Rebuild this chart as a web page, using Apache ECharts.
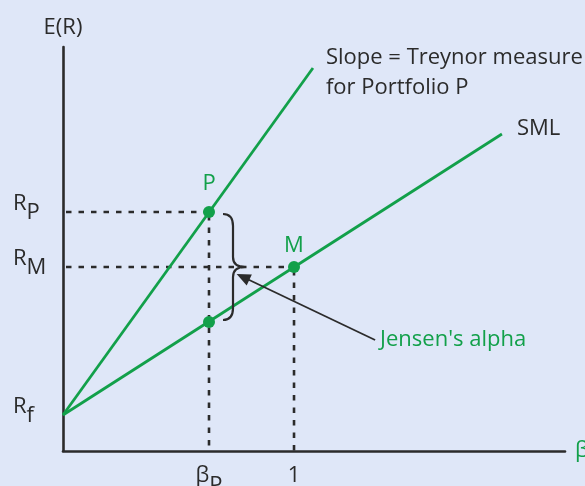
<!DOCTYPE html>
<html>
<head>
<meta charset="utf-8">
<script src="https://cdn.jsdelivr.net/npm/echarts@6/dist/echarts.min.js"></script>
<style>
  html, body { margin: 0; padding: 0; background: #dfe7f8; }
  #chart { width: 585px; height: 486px; }
</style>
</head>
<body>
<div id="chart"></div>
<script>
// 数据：β 与 期望收益（单位随意，只看相对位置）
var betaP = 0.632;
var betaM = 1;
var rf = 0.36;
var rm = 1.84;
var rp = 2.39;
var xMax = 2.173;
var yMax = 4.04;

var treynorLine = [[0, 0.36], [1.082, 3.83]];
var smlLine = [[0, 0.36], [1.9, 3.17]];
// P, M, SML 上对应 βP 的点
var points = [[0.632, 2.39], [1, 1.84], [0.632, 1.29]];
var pointNames = ['P', 'M', ''];
// Jensen's alpha 箭头：起点 -> 终点
var arrowLine = [[1.351, 1.11], [0.779, 1.74]];

var xTickValues = [betaP, betaM];
var yTickValues = [rf, rm, rp];
var yTickSubs = ['f', 'M', 'P'];

var green = '#12a04a';
var ink = '#2b2b2b';
var font = 'Open Sans';
var fs = 22;

var myChart = echarts.init(document.getElementById('chart'));

// 虚线辅助线
var guides = [
    [[0, rp], [betaP, rp]],
    [[betaP, rp], [betaP, 0]],
    [[0, rm], [betaM, rm]],
    [[betaM, rm], [betaM, 0]]
];
var guideSeries = guides.map(function(d) {
    return {
        type: 'line',
        data: d,
        showSymbol: false,
        silent: true,
        z: 1,
        lineStyle: { color: ink, width: 2.6, type: [5.5, 7], dashOffset: -3 }
    };
});

var option = {
    animation: false,
    backgroundColor: '#dfe7f8',
    grid: {
        left: 63,
        right: 20,
        top: 47,
        bottom: 35,
        outerBoundsMode: 'none'
    },
    xAxis: {
        type: 'value',
        min: 0,
        max: xMax,
        name: 'β',
        nameLocation: 'end',
        nameGap: 10,
        nameTextStyle: { color: green, fontSize: fs, fontFamily: font },
        axisLine: { lineStyle: { color: ink, width: 2.6 } },
        axisTick: { show: false },
        splitLine: { show: false },
        axisLabel: {
            customValues: xTickValues,
            margin: 20,
            formatter: function(v) {
                return v === betaM ? '{b|1}' : '{b|β}{p|P}';
            },
            rich: {
                b: { fontSize: fs, lineHeight: 20, color: ink, fontFamily: font, padding: [0, 0, 10, 0] },
                p: { fontSize: fs, lineHeight: 20, color: ink, fontFamily: font, padding: [10, 0, 0, 0] }
            }
        }
    },
    yAxis: {
        type: 'value',
        min: 0,
        max: yMax,
        name: 'E(R)',
        nameLocation: 'end',
        nameGap: 8,
        nameTextStyle: { color: ink, fontSize: fs, fontFamily: font },
        axisLine: { lineStyle: { color: ink, width: 2.6 } },
        axisTick: { show: false },
        splitLine: { show: false },
        axisLabel: {
            customValues: yTickValues,
            margin: 50,
            align: 'left',
            formatter: function(v) {
                var i = yTickValues.indexOf(v);
                return '{r|R}{s|' + yTickSubs[i] + '}';
            },
            rich: {
                r: { fontSize: fs, lineHeight: 20, color: ink, fontFamily: font, padding: [0, 0, 16, 0] },
                s: { fontSize: fs, lineHeight: 20, color: ink, fontFamily: font, padding: [9, 0, 7, 0] }
            }
        }
    },
    series: guideSeries.concat([
        {
            type: 'line',
            data: treynorLine,
            showSymbol: false,
            z: 2,
            lineStyle: { color: green, width: 2.8 }
        },
        {
            type: 'line',
            data: smlLine,
            showSymbol: false,
            z: 2,
            lineStyle: { color: green, width: 2.8 }
        },
        {
            type: 'scatter',
            z: 5,
            symbolSize: 12,
            itemStyle: { color: green, opacity: 1 },
            data: points.map(function(p, i) {
                return {
                    value: p,
                    label: {
                        show: pointNames[i] !== '',
                        formatter: pointNames[i],
                        position: 'top',
                        distance: i === 0 ? 11 : 4,
                        color: green,
                        fontSize: fs,
                        fontFamily: font
                    }
                };
            })
        },
        {
            // 大括号
            type: 'custom',
            silent: true,
            z: 4,
            data: [[betaP, points[0][1], points[2][1]]],
            encode: { x: 0, y: [1, 2] },
            renderItem: function(params, api) {
                var top = api.coord([api.value(0), api.value(1)]);
                var bot = api.coord([api.value(0), api.value(2)]);
                var x0 = top[0] + 14;
                var x1 = x0 + 10;
                var xt = x0 + 22;
                var yT = top[1] + 2;
                var yB = bot[1] - 2;
                var yM = (yT + yB) / 2;
                var d = 'M' + x0 + ' ' + yT +
                    ' Q' + x1 + ' ' + yT + ' ' + x1 + ' ' + (yT + 12) +
                    ' L' + x1 + ' ' + (yM - 10) +
                    ' Q' + x1 + ' ' + yM + ' ' + xt + ' ' + yM +
                    ' Q' + x1 + ' ' + yM + ' ' + x1 + ' ' + (yM + 10) +
                    ' L' + x1 + ' ' + (yB - 12) +
                    ' Q' + x1 + ' ' + yB + ' ' + x0 + ' ' + yB;
                return {
                    type: 'path',
                    shape: { pathData: d },
                    style: { fill: null, stroke: ink, lineWidth: 2.2 }
                };
            }
        },
        {
            // 箭头
            type: 'line',
            data: [],
            markLine: {
                silent: true,
                symbol: ['none', 'triangle'],
                symbolSize: [12, 14],
                label: { show: false },
                lineStyle: { color: ink, width: 1.8, type: 'solid' },
                data: [[{ coord: arrowLine[0] }, { coord: arrowLine[1] }]]
            }
        },
        {
            // 文字注释
            type: 'scatter',
            symbolSize: 0,
            silent: true,
            itemStyle: { opacity: 1 },
            data: [
                {
                    value: treynorLine[1],
                    label: {
                        show: true, position: 'right', distance: 13, offset: [0, 5],
                        formatter: 'Slope = Treynor measure\nfor Portfolio P',
                        color: ink, fontSize: fs, lineHeight: 30, fontFamily: font
                    }
                },
                {
                    value: smlLine[1],
                    label: {
                        show: true, position: 'right', distance: 15, offset: [0, -5],
                        formatter: 'SML',
                        color: ink, fontSize: fs, fontFamily: font
                    }
                },
                {
                    value: arrowLine[0],
                    label: {
                        show: true, position: 'right', distance: 5,
                        formatter: "Jensen's alpha",
                        color: green, fontSize: fs, fontFamily: font
                    }
                }
            ]
        }
    ])
};
myChart.setOption(option);
</script>
</body>
</html>
